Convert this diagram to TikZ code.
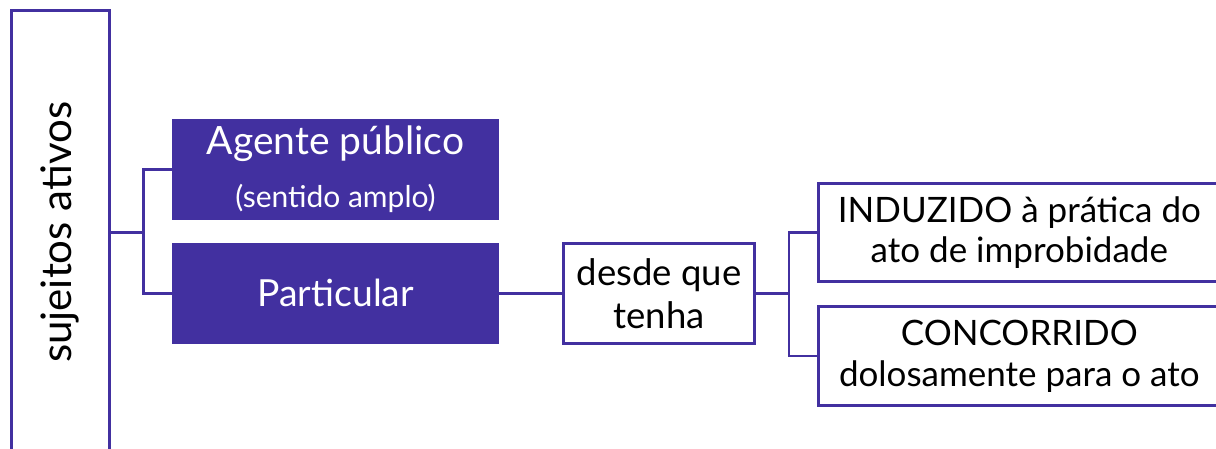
\documentclass[tikz,border=0pt]{standalone}
\usepackage{fontspec}
\setmainfont{Lato}
\definecolor{pur}{RGB}{66,48,160}
\tikzset{
  conn/.style={draw=pur, line width=2.7pt},
  fillbox/.style={fill=pur, draw=none, text=white, inner sep=0pt, anchor=north west, align=center},
  linebox/.style={draw=pur, line width=2.7pt, fill=white, text=black, inner sep=0pt, align=center},
  txt/.style={inner sep=0pt, align=center}
}
\begin{document}
\begin{tikzpicture}[x=1pt,y=-1pt]
\clip (0,0) rectangle (1216,448);
\fill[white] (0,0) rectangle (1216,448);
% left box
\node[linebox, anchor=north west, minimum width=98pt, minimum height=444pt] (L) at (10,9) {};
\node[txt, rotate=90, font=\fontsize{42}{50}\selectfont] (Lt) at (L.center) {sujeitos ativos};
% filled boxes
\node[fillbox, minimum width=327pt, minimum height=101pt] (Ag) at (172,119) {};
\node[txt, text=white, anchor=base, font=\fontsize{39}{46}\selectfont] (Agt1) at (335.5,154) {Agente público};
\node[txt, text=white, anchor=base, font=\fontsize{30}{36}\selectfont] (Agt2) at (335.5,207) {(sentido amplo)};
\node[fillbox, minimum width=327pt, minimum height=101pt] (Pa) at (172,242.5) {};
\node[txt, text=white, font=\fontsize{37.3}{44}\selectfont] (Pat) at (Pa.center) {Particular};
% desde que tenha
\node[linebox, anchor=west, xshift=63pt, minimum width=191pt, minimum height=100pt] (De) at (Pa.east) {};
\node[txt, font=\fontsize{36.5}{43}\selectfont] (Det) at (De.center) {desde que\\tenha};
% right boxes
\node[linebox, anchor=north west, minimum width=402pt, minimum height=98pt] (In) at (817,182) {};
\node[txt, font=\fontsize{35}{40}\selectfont] (Int) at (In.center) {INDUZIDO à prática do\\ato de improbidade};
\node[linebox, anchor=north west, minimum width=402pt, minimum height=99pt] (Co) at (817,305) {};
\node[txt, font=\fontsize{35}{41}\selectfont] (Cot) at (Co.center) {CONCORRIDO\\dolosamente para o ato};
% connectors
\path (L.east) ++(33,0) coordinate (b1);
\path (De.east) ++(33,0) coordinate (b2);
\draw[conn] (L.east) -- (b1);
\draw[conn] (Ag.west) -| (b1);
\draw[conn] (Pa.west) -| (b1);
\draw[conn] (Pa.east) -- (De.west);
\draw[conn] (De.east) -- (b2);
\draw[conn] (In.west) -| (b2);
\draw[conn] (Co.west) -| (b2);
\end{tikzpicture}
\end{document}
